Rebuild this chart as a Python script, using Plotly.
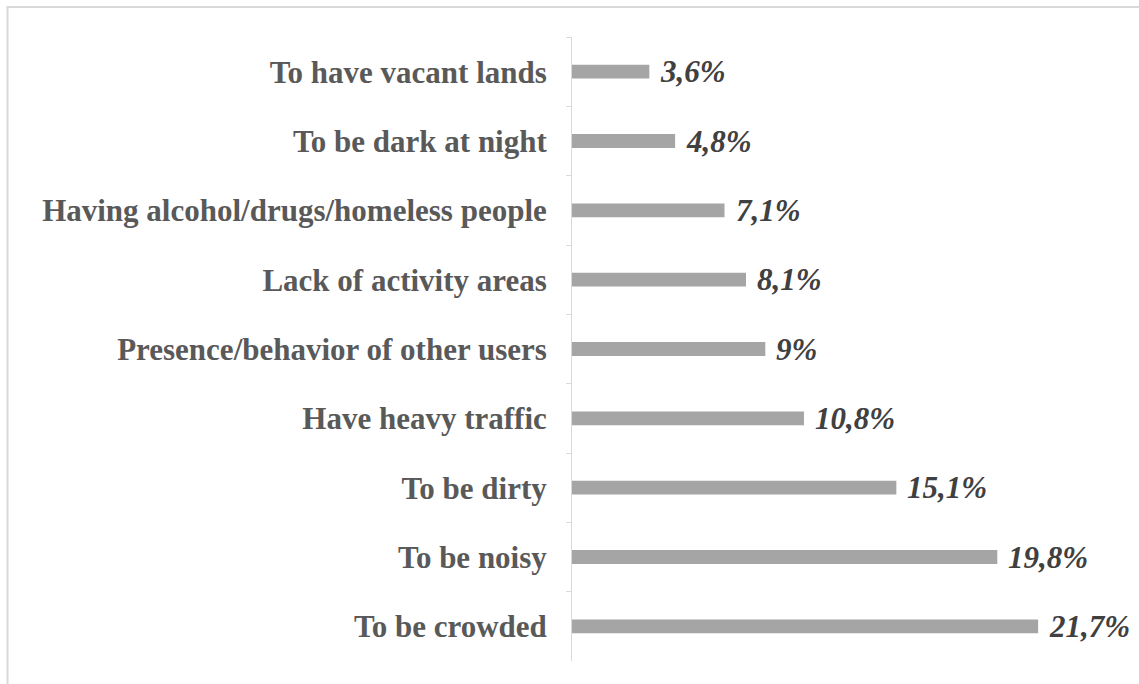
import plotly.graph_objects as go

# Reasons given, listed top to bottom, with their shares (%)
categories = [
    "To have vacant lands",
    "To be dark at night",
    "Having alcohol/drugs/homeless people",
    "Lack of activity areas",
    "Presence/behavior of other users",
    "Have heavy traffic",
    "To be dirty",
    "To be noisy",
    "To be crowded",
]
values = [3.6, 4.8, 7.1, 8.1, 9.0, 10.8, 15.1, 19.8, 21.7]


def pct_label(v):
    return ("%g" % v).replace(".", ",") + "%"


labels = [pct_label(v) for v in values]

FONT = "Liberation Serif, Times New Roman, serif"
AXIS_GRAY = "#d9d9d9"

fig = go.Figure(
    go.Bar(
        x=values,
        y=categories,
        orientation="h",
        marker=dict(color="#a5a5a5", line=dict(width=0)),
        hoverinfo="skip",
    )
)

# Value labels just past each bar end
for cat, v, lab in zip(categories, values, labels):
    fig.add_annotation(
        x=v, y=cat, text=lab, showarrow=False,
        xanchor="left", yanchor="middle", xshift=9,
        font=dict(family=FONT, size=31, color="#404040",
                  weight="bold", style="italic"),
    )

# Light frame around the chart area
L, T, W, H = 572, 37, 537.5, 624
def px_x(p):
    return (p - L) / W
def px_y(p):
    return 1 - (p - T) / H

frame = dict(color=AXIS_GRAY, width=2)
fig.add_shape(type="line", xref="paper", yref="paper",
              x0=px_x(7), x1=px_x(7), y0=px_y(7), y1=px_y(720), line=frame)
fig.add_shape(type="line", xref="paper", yref="paper",
              x0=px_x(6), x1=px_x(1160), y0=px_y(7), y1=px_y(7), line=frame)

fig.update_layout(
    width=1139,
    height=684,
    margin=dict(l=L, r=1139 - L - W, t=T, b=684 - T - H),
    paper_bgcolor="white",
    plot_bgcolor="white",
    bargap=0.8,
    showlegend=False,
    xaxis=dict(range=[0, 25], visible=False, showgrid=False, zeroline=False),
    yaxis=dict(
        type="category",
        categoryorder="array",
        categoryarray=categories,
        range=[8.5, -0.5],
        showline=True,
        linecolor=AXIS_GRAY,
        linewidth=1,
        ticks="outside",
        tickson="boundaries",
        ticklen=5,
        tickcolor=AXIS_GRAY,
        tickwidth=1,
        showgrid=False,
        zeroline=False,
        ticklabelstandoff=18,
        tickfont=dict(family=FONT, size=31, color="#595959", weight="bold"),
    ),
)

fig.write_html("out.html")
